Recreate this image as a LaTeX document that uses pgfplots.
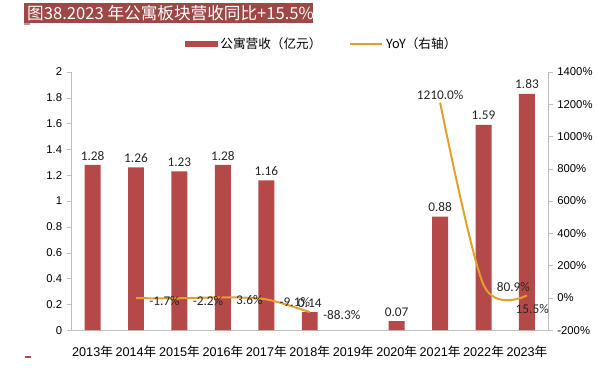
\documentclass[border=0pt]{standalone}
\usepackage{pgfplots}
\pgfplotsset{compat=1.18}
\usepackage{fontspec}
\setmainfont{Liberation Sans}
\newfontfamily\cjk{Noto Sans CJK SC}
\newfontfamily\cali{Carlito}
\definecolor{barc}{HTML}{B5494A}
\definecolor{titc}{HTML}{9E4846}
\definecolor{linec}{HTML}{E3A02E}
\definecolor{axc}{HTML}{BFBFBF}
\begin{document}
\begin{tikzpicture}
\path (0,0) rectangle (447.75pt,286.5pt);
\fill[titc] (18pt,269.25pt) rectangle (235.5pt,284.25pt);
\node[anchor=west, text=white, font=\cjk\fontsize{12.5}{14}\selectfont, inner sep=0pt] at (20.25pt,276.75pt) {图38.2023 年公寓板块营收同比+15.5\%};
\fill[titc!60] (18pt,268pt) rectangle (22.5pt,269.25pt);
\fill[barc] (19pt,17.5pt) rectangle (23pt,18.5pt);
\begin{axis}[
  at={(53.25pt,38.25pt)}, anchor=south west, scale only axis,
  width=359.25pt, height=194.25pt,
  xmin=-0.5, xmax=10.5, ymin=0, ymax=2,
  axis x line*=bottom, axis y line*=left,
  axis line style={axc,-},
  tick style={axc}, major tick length=3pt, tick align=outside,
  x tick style={draw=none},
  xtick={0,1,2,3,4,5,6,7,8,9,10},
  xticklabels={2013\cjk{年},2014\cjk{年},2015\cjk{年},2016\cjk{年},2017\cjk{年},2018\cjk{年},2019\cjk{年},2020\cjk{年},2021\cjk{年},2022\cjk{年},2023\cjk{年}},
  xticklabel style={font=\fontsize{9.5}{11}\selectfont, yshift=-5.5pt},
  ytick={0,0.2,0.4,0.6,0.8,1,1.2,1.4,1.6,1.8,2},
  yticklabel style={font=\fontsize{8.5}{10}\selectfont},
  /pgf/number format/assume math mode=true,
  ybar, bar width=12pt,
]
\addplot[fill=barc, draw=none,
  nodes near coords={\pgfmathprintnumber[fixed,fixed zerofill,precision=2]{\pgfplotspointmeta}},
  nodes near coords style={font=\cali\fontsize{10}{12}\selectfont, text=black!85}]
  coordinates {(0,1.28)(1,1.26)(2,1.23)(3,1.28)(4,1.16)(5,0.14)(7,0.07)(8,0.88)(9,1.59)(10,1.83)};
\end{axis}
\begin{axis}[
  at={(53.25pt,38.25pt)}, anchor=south west, scale only axis,
  width=359.25pt, height=194.25pt,
  xmin=-0.5, xmax=10.5, ymin=-200, ymax=1400,
  axis x line=none, axis y line*=right,
  axis line style={axc,-},
  tick style={axc}, major tick length=3pt, tick align=outside,
  ytick={-200,0,200,400,600,800,1000,1200,1400},
  yticklabel={\pgfmathprintnumber{\tick}\%},
  yticklabel style={font=\fontsize{8.5}{10}\selectfont},
  /pgf/number format/1000 sep={},
  /pgf/number format/assume math mode=true,
  legend style={at={(0.526,1.108)}, anchor=center, draw=none, fill=none,
    font=\cjk\fontsize{9.5}{11}\selectfont, legend columns=2,
    /tikz/every even column/.append style={column sep=19pt}},
]
\addlegendimage{legend image code/.code={\fill[barc] (0pt,-1.9pt) rectangle (24pt,1.9pt);}}
\addlegendentry{公寓营收（亿元）}
\addplot[linec, line width=1.5pt, smooth, mark=none,
  legend image code/.code={\draw[linec, line width=1.5pt] (0pt,0pt) -- (24pt,0pt);}]
  coordinates {(1,-1.7)(2,-2.2)(3,3.6)(4,-9.1)(5,-88.3)};
\addlegendentry{YoY（右轴）}
\addplot[linec, line width=1.5pt, smooth, mark=none, forget plot]
  coordinates {(8,1210)(9,80.9)(10,15.5)};
\addplot[draw=none, mark=none, forget plot, point meta=explicit symbolic,
  nodes near coords, nodes near coords style={font=\cali\fontsize{10}{12}\selectfont, text=black!85, anchor=west, xshift=6.5pt, yshift=-2pt}]
  coordinates {(1,-1.7)[-1.7\%] (2,-2.2)[-2.2\%] (3,3.6)[3.6\%] (4,-9.1)[-9.1\%] (5,-88.3)[-88.3\%] (9,80.9)[80.9\%]};
\addplot[draw=none, mark=none, forget plot, point meta=explicit symbolic,
  nodes near coords, nodes near coords style={font=\cali\fontsize{10}{12}\selectfont, text=black!85, anchor=south, yshift=-1pt}]
  coordinates {(8,1210)[1210.0\%]};
\addplot[draw=none, mark=none, forget plot, point meta=explicit symbolic,
  nodes near coords, nodes near coords style={font=\cali\fontsize{10}{12}\selectfont, text=black!85, anchor=north, xshift=4pt, yshift=-3pt}]
  coordinates {(10,15.5)[15.5\%]};
\end{axis}
\end{tikzpicture}
\end{document}
